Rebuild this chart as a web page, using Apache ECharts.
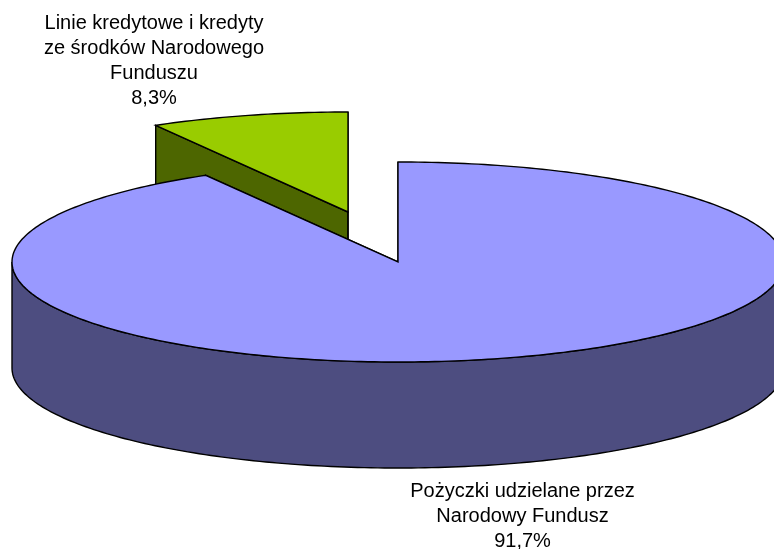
<!DOCTYPE html>
<html>
<head>
<meta charset="utf-8">
<style>
  html, body { margin: 0; padding: 0; background: #fff; }
  #chart { width: 774px; height: 549px; }
</style>
<script src="https://cdn.jsdelivr.net/npm/echarts@6/dist/echarts.min.js"></script>
</head>
<body>
<div id="chart"></div>
<script>
// drawn in paint order: the pulled out slice sits behind the big one
const categories = ['Linie kredytowe i kredyty\nze środków Narodowego\nFunduszu', 'Pożyczki udzielane przez\nNarodowy Fundusz']
const shares = [8.3, 91.7]
const shareLabels = ['8,3%', '91,7%']
const topColors = ['#99cc00', '#9999ff']
const sideColors = ['#4d6600', '#4d4d80']
const labelAnchors = [[154, 60.5], [522.5, 516]]

const cx = 398
const cy = 262
const rx = 386
const ry = 100
const depth = 106
const explode = [[-50, -50], [0, 0]]

// fraction of the pie, clockwise from 12 o'clock
function rimPoint(frac, ox, oy, dy) {
  const a = frac * Math.PI * 2
  return [cx + ox + rx * Math.sin(a), cy + oy - ry * Math.cos(a) + dy]
}

function arc(from, to, ox, oy, dy) {
  const pts = []
  const steps = Math.max(2, Math.ceil((to - from) * 360))
  for (let i = 0; i <= steps; i++) {
    pts.push(rimPoint(from + (to - from) * i / steps, ox, oy, dy))
  }
  return pts
}

function poly(points, fill) {
  return {
    type: 'polygon',
    shape: { points },
    style: { fill, stroke: '#000', lineWidth: 1.4 }
  }
}

function slicePieces(index) {
  const total = shares.reduce((a, b) => a + b, 0)
  // big slice runs from 0 clockwise, small one closes the circle
  const start = index === 1 ? 0 : shares[1] / total
  const end = start + shares[index] / total
  const [ox, oy] = explode[index]
  const centre = [cx + ox, cy + oy]
  const centreLow = [centre[0], centre[1] + depth]
  const fill = sideColors[index]
  const out = []

  // cut faces first, the rim and the top cover whatever overlaps them
  const a = rimPoint(start, ox, oy, 0)
  const aLow = rimPoint(start, ox, oy, depth)
  const b = rimPoint(end, ox, oy, 0)
  const bLow = rimPoint(end, ox, oy, depth)
  out.push(poly([centre, a, aLow, centreLow], fill))
  out.push(poly([centre, b, bLow, centreLow], fill))

  // outer wall, only the front half of the ellipse can be seen
  const wallFrom = Math.max(start, 0.25)
  const wallTo = Math.min(end, 0.75)
  if (wallTo > wallFrom) {
    const upper = arc(wallFrom, wallTo, ox, oy, 0)
    const lower = arc(wallFrom, wallTo, ox, oy, depth).reverse()
    out.push(poly(upper.concat(lower), fill))
  }

  out.push(poly([centre].concat(arc(start, end, ox, oy, 0)), topColors[index]))
  return out
}

const chart = echarts.init(document.getElementById('chart'))

chart.setOption({
  backgroundColor: '#fff',
  animation: false,
  series: [
    {
      type: 'custom',
      coordinateSystem: 'none',
      data: shares.map((v, i) => [i, v]),
      renderItem(params, api) {
        const i = api.value(0)
        const text = categories[i] + '\n' + shareLabels[i]
        return {
          type: 'group',
          children: slicePieces(i).concat({
            type: 'text',
            style: {
              text,
              x: labelAnchors[i][0],
              y: labelAnchors[i][1],
              fill: '#000',
              font: '20px "Liberation Sans", Arial, sans-serif',
              lineHeight: 25,
              align: 'center',
              verticalAlign: 'middle'
            }
          })
        }
      }
    }
  ]
})
</script>
</body>
</html>
